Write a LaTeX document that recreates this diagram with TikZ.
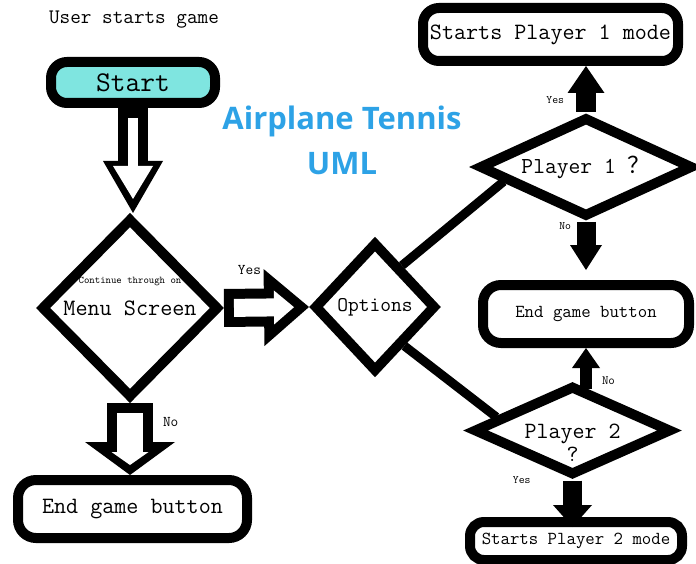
\documentclass[tikz,border=0pt]{standalone}
\usepackage{fontspec}
\newfontfamily\titlefont{Open Sans}
\newfontfamily\cjkfont{Noto Sans CJK SC}
\usetikzlibrary{arrows.meta,positioning,shapes.geometric,calc}
\definecolor{startcyan}{RGB}{127,229,224}
\definecolor{titleblue}{RGB}{45,162,230}
\newcommand{\fsz}[1]{\ttfamily\fontsize{#1}{#1}\selectfont}
\tikzset{
  kbox/.style={draw=black,line width=10pt,rounded corners=16pt,inner sep=3pt,align=center,fill=white},
  kboxc/.style={kbox,fill=startcyan},
  kdiam/.style={draw=black,diamond,line width=10pt,inner sep=0pt,align=center,fill=white},
  fatflow/.style n args={3}{line width=#1,draw=black,-{Triangle[length=#3,width=#2,line width=0pt]}},
  hollowcore/.style n args={4}{postaction={draw=white,line width=#1,-{Triangle[length=#3,width=#2,line width=0pt]},
    shorten <=10pt,shorten >=#4}},
  linkflow/.style={line width=9pt,draw=black},
  labelnote/.style={inner sep=0pt,outer sep=0pt,font=\fsz{14.9}}
}
\begin{document}
\begin{tikzpicture}[x=1pt,y=-1pt]
  \useasboundingbox (0,0) rectangle (696,564);
  \node[font=\fsz{20.6}] (usr) at (134,20) {User starts game};
  \node[kboxc,minimum width=164pt,minimum height=41pt,font=\fsz{28.6}] (start) at (133,82.5) {Start};
  \node[kdiam,minimum width=178pt,minimum height=180pt,font=\fsz{23.5}] (menu) at (130,308) {Menu Screen};
  \node[font=\fsz{10.3},above=19pt of menu.center] (menuhint) {Continue through on};
  \node[kdiam,minimum width=122pt,minimum height=130pt,font=\fsz{20.9}] (options) at (375,307) {Options};
  \node[font=\titlefont\bfseries\fontsize{31}{45}\selectfont,text=titleblue,align=center] (title) at (342,140) {Airplane Tennis\\UML};
  \node[kbox,minimum width=229pt,minimum height=58pt,rounded corners=18pt,font=\fsz{23.4}] (endl) at (132.5,509) {End game button};

  \node[kbox,minimum width=255pt,minimum height=53pt,font=\fsz{23.4}] (modeone) at (550.5,34.5) {Starts Player 1 mode};
  \node[kdiam,aspect=2.2,minimum width=214pt,minimum height=100pt,font=\fsz{22.9}] (playerone) at (586,167) {Player 1 {\cjkfont ？}};
  \node[kbox,minimum width=206pt,minimum height=58pt,rounded corners=18pt,font=\fsz{18.3}] (endr) at (586,314) {End game button};
  \node[kdiam,aspect=2.2,minimum width=198pt,minimum height=90pt,font=\fontsize{23.3}{23}\ttfamily\selectfont,text depth=0pt] (playertwo) at (572.5,430.5)
    {\begin{tabular}[t]{@{}c@{}}Player 2\\?\end{tabular}};
  \node[kbox,minimum width=212pt,minimum height=38pt,rounded corners=14pt,font=\fsz{18.3}] (modetwo) at (576,541) {Starts Player 2 mode};

  % hollow arrows on the left
  \draw[fatflow={30pt}{60pt}{52pt},hollowcore={10pt}{40pt}{33pt}{14pt}] (start.south) -- (start.south |- menu.north);
  \draw[fatflow={38pt}{77pt}{45pt},hollowcore={18pt}{34pt}{20pt}{15pt}] (menu.east) -- (options.west)
    node[labelnote,pos=0.3,above=33pt]{Yes};
  \draw[fatflow={46pt}{90pt}{33pt},hollowcore={26pt}{37pt}{13pt}{10pt}] (menu.south) -- (menu.south |- endl.north)
    node[labelnote,pos=0.27,right=33pt]{No};

  % options to players
  \draw[linkflow] (options.57) -- (playerone.190);
  \draw[linkflow] (options.-53) -- (playertwo.170);

  % solid arrows on the right
  \draw[fatflow={20pt}{37pt}{27pt}] (playerone.north) -- (playerone.north |- modeone.south)
    node[labelnote,pos=0.27,left=22pt,font=\fsz{11.4}]{Yes};
  \draw[fatflow={19pt}{32pt}{25pt},shorten >=10pt] (playerone.south) -- (playerone.south |- endr.north)
    node[labelnote,pos=0.07,left=15pt,font=\fsz{11.4}]{No};
  \draw[fatflow={12pt}{28pt}{20pt},shorten <=-8pt] (playertwo.north -| endr.south) -- (endr.south)
    node[labelnote,pos=0,right=16pt,font=\fsz{12.6}]{No};
  \draw[fatflow={19pt}{39pt}{22pt},shorten >=-10pt] (playertwo.south) -- (playertwo.south |- modetwo.north)
    node[labelnote,pos=0,left=42pt,font=\fsz{11.4}]{Yes};
\end{tikzpicture}
\end{document}
